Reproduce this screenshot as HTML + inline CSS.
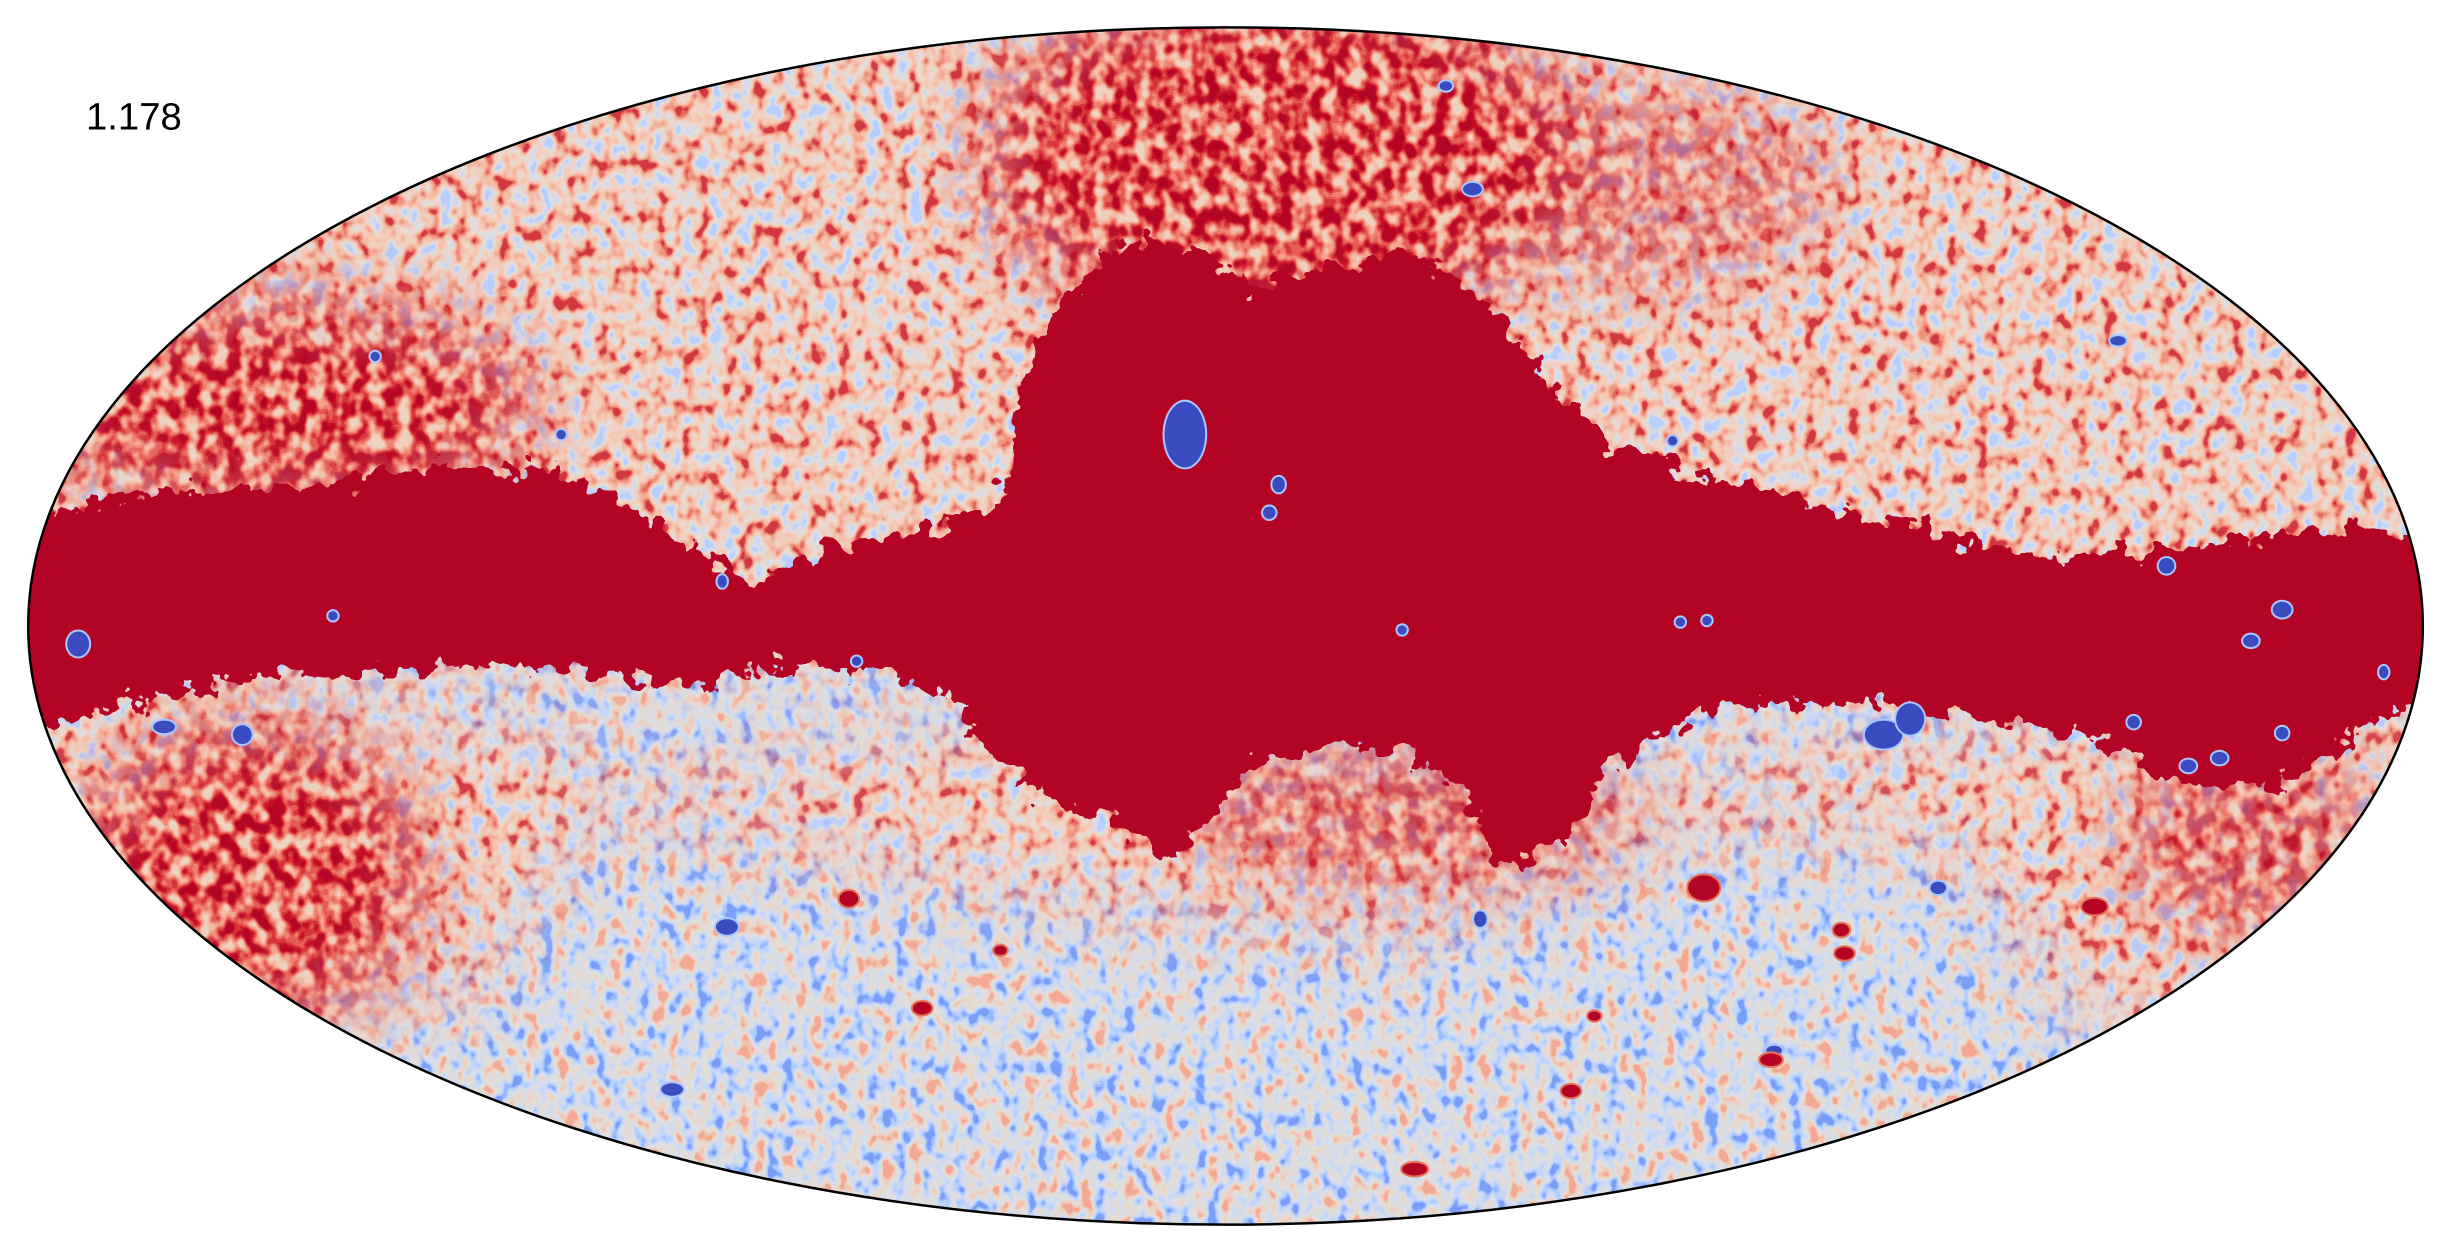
<!DOCTYPE html>
<html><head><meta charset="utf-8">
<style>
html,body{margin:0;padding:0;background:#fff;width:2451px;height:1255px;overflow:hidden}
svg{display:block}
</style></head>
<body>
<svg id="map" width="2451" height="1255" viewBox="0 0 1568 802.9" xmlns="http://www.w3.org/2000/svg">
<defs>
 <clipPath id="ell"><ellipse cx="784" cy="400.5" rx="766" ry="383"/></clipPath>
 <filter id="fSouth" x="0" y="0" width="1568" height="803" filterUnits="userSpaceOnUse" color-interpolation-filters="sRGB">
  <feTurbulence type="fractalNoise" baseFrequency="0.11 0.09" numOctaves="2" seed="3"/>
  <feColorMatrix type="matrix" values="1 0 0 0 0 1 0 0 0 0 1 0 0 0 0 0 0 0 0 1"/>
  <feComponentTransfer>
   <feFuncR type="linear" slope="2.0" intercept="-0.5"/>
   <feFuncG type="linear" slope="2.0" intercept="-0.5"/>
   <feFuncB type="linear" slope="2.0" intercept="-0.5"/>
  </feComponentTransfer>
  <feComponentTransfer>
   <feFuncR type="discrete" tableValues="0.48 0.60 0.70 0.77 0.82 0.86 0.88 0.90 0.93 0.95 0.95"/>
   <feFuncG type="discrete" tableValues="0.62 0.73 0.81 0.84 0.86 0.87 0.87 0.86 0.82 0.76 0.66"/>
   <feFuncB type="discrete" tableValues="0.97 1.00 0.99 0.97 0.94 0.90 0.87 0.83 0.77 0.68 0.58"/>
  </feComponentTransfer>
 </filter>
 <filter id="fNorth" x="0" y="0" width="1568" height="803" filterUnits="userSpaceOnUse" color-interpolation-filters="sRGB">
  <feTurbulence type="fractalNoise" baseFrequency="0.11 0.09" numOctaves="2" seed="8"/>
  <feColorMatrix type="matrix" values="1 0 0 0 0 1 0 0 0 0 1 0 0 0 0 0 0 0 0 1"/>
  <feComponentTransfer>
   <feFuncR type="linear" slope="2.0" intercept="-0.5"/>
   <feFuncG type="linear" slope="2.0" intercept="-0.5"/>
   <feFuncB type="linear" slope="2.0" intercept="-0.5"/>
  </feComponentTransfer>
  <feComponentTransfer>
   <feFuncR type="discrete" tableValues="0.72 0.80 0.86 0.90 0.94 0.95 0.96 0.96 0.94 0.90 0.82"/>
   <feFuncG type="discrete" tableValues="0.81 0.85 0.87 0.86 0.83 0.80 0.75 0.68 0.58 0.42 0.22"/>
   <feFuncB type="discrete" tableValues="0.99 0.96 0.89 0.84 0.78 0.73 0.67 0.60 0.50 0.38 0.26"/>
  </feComponentTransfer>
 </filter>
 <filter id="fDark" x="0" y="0" width="1568" height="803" filterUnits="userSpaceOnUse" color-interpolation-filters="sRGB">
  <feTurbulence type="fractalNoise" baseFrequency="0.11 0.09" numOctaves="2" seed="15"/>
  <feColorMatrix type="matrix" values="1 0 0 0 0 1 0 0 0 0 1 0 0 0 0 0 0 0 0 1"/>
  <feComponentTransfer>
   <feFuncR type="linear" slope="2.0" intercept="-0.5"/>
   <feFuncG type="linear" slope="2.0" intercept="-0.5"/>
   <feFuncB type="linear" slope="2.0" intercept="-0.5"/>
  </feComponentTransfer>
  <feComponentTransfer>
   <feFuncR type="discrete" tableValues="0.93 0.96 0.96 0.94 0.90 0.84 0.77 0.71 0.71"/>
   <feFuncG type="discrete" tableValues="0.82 0.74 0.64 0.50 0.36 0.20 0.06 0.02 0.02"/>
   <feFuncB type="discrete" tableValues="0.76 0.66 0.56 0.44 0.33 0.23 0.16 0.15 0.15"/>
  </feComponentTransfer>
 </filter>
 <filter id="rough" x="-0.1" y="-0.1" width="1.2" height="1.2" color-interpolation-filters="sRGB">
  <feTurbulence type="fractalNoise" baseFrequency="0.08" numOctaves="3" seed="5" result="n"/>
  <feDisplacementMap in="SourceGraphic" in2="n" scale="30" xChannelSelector="R" yChannelSelector="G"/>
 </filter>
 <filter id="blur20"><feGaussianBlur stdDeviation="22"/></filter>
 <mask id="mNorth" maskUnits="userSpaceOnUse" x="0" y="0" width="1568" height="803">
  <g filter="url(#blur20)" fill="#fff">
   <path d="M0 0 H1568 V420 H0 Z"/>
   <path d="M0 400 L340 470 L420 500 L600 470 L1000 500 L1250 470 L1568 440 V700 L1330 650 L1250 540 L1100 530 L900 600 L700 580 L380 520 L300 640 L0 700 Z"/>
  </g>
 </mask>
 <mask id="mDark" maskUnits="userSpaceOnUse" x="0" y="0" width="1568" height="803">
  <g filter="url(#blur20)" fill="#fff">
   <ellipse cx="820" cy="100" rx="190" ry="110"/>
   <ellipse cx="180" cy="260" rx="160" ry="65"/>
   <ellipse cx="160" cy="560" rx="110" ry="95"/>
   <ellipse cx="1440" cy="540" rx="80" ry="55" opacity="0.7"/>
   <ellipse cx="1060" cy="120" rx="110" ry="60" opacity="0.5"/>
   <ellipse cx="900" cy="520" rx="140" ry="40" opacity="0.7"/>
  </g>
 </mask>
</defs>

<g clip-path="url(#ell)">
 <rect x="0" y="0" width="1568" height="803" filter="url(#fSouth)"/>
 <g mask="url(#mNorth)"><rect x="0" y="0" width="1568" height="803" filter="url(#fNorth)"/></g>
 <g mask="url(#mDark)"><rect x="0" y="0" width="1568" height="803" filter="url(#fDark)"/></g>
 <g filter="url(#rough)" fill="#b40426">
  <path d="M0 338 L60 322 L120 315 L200 310 L270 300 L330 298 L370 305 L420 335 L460 362 L490 372 L530 348 L600 338 L640 322 L655 240 L690 175 L730 150 L770 160 L800 185 L850 170 L900 160 L950 190 L990 245 L1030 282 L1080 302 L1140 318 L1200 332 L1260 347 L1320 357 L1380 352 L1440 347 L1500 337 L1568 347 L1568 445 L1520 460 L1490 480 L1460 500 L1400 505 L1370 488 L1330 470 L1250 455 L1180 450 L1100 452 L1060 470 L1030 490 L1000 540 L960 555 L940 510 L900 480 L850 475 L800 490 L770 530 L750 548 L700 520 L660 505 L630 480 L610 445 L560 432 L500 425 L430 440 L380 430 L320 425 L250 430 L180 432 L120 440 L60 455 L0 475 Z"/>
 </g>
 <g id="spots"></g>
</g>
<ellipse cx="784" cy="400.5" rx="766" ry="383" fill="none" stroke="#000" stroke-width="1.6"/>
<text x="55" y="83" font-family="'Liberation Sans', sans-serif" font-size="24.5" fill="#000">1.178</text>
</svg>
<script>
// point sources: x, y (display coords), radius x, radius y
const blueX = [758, 942, 1355, 1386, 1460, 1440, 1525, 1400, 1420, 1205, 1222, 50, 105, 155, 465, 1240, 947, 430, 1135, 818, 812, 897, 1075, 1092, 213, 462, 359, 240, 1070, 1460, 1365, 548, 925];
const blueY = [278, 121, 218, 362, 390, 410, 430, 490, 485, 470, 460, 412, 465, 470, 593, 568, 588, 697, 672, 310, 328, 403, 398, 397, 394, 372, 278, 228, 282, 469, 462, 423, 55];
const blueRX = [13, 6, 5, 5, 6, 5, 3, 5, 5, 12, 9, 7, 7, 6, 7, 5, 4, 7, 5, 4, 4, 3, 3, 3, 3, 3, 3, 3, 3, 4, 4, 3, 4];
const blueRY = [21, 4, 3, 5, 5, 4, 4, 4, 4, 9, 10, 8, 4, 6, 5, 4, 5, 4, 3, 5, 4, 3, 3, 3, 3, 4, 3, 3, 3, 4, 4, 3, 3];
const redX = [543, 590, 640, 1180, 1178, 1340, 1133, 905, 1005, 1090, 1020];
const redY = [575, 645, 608, 610, 595, 580, 678, 748, 698, 568, 650];
const redRX = [6, 6, 4, 6, 5, 8, 7, 8, 6, 10, 4];
const redRY = [5, 4, 3, 4, 4, 5, 4, 4, 4, 8, 3];

const NS = 'http://www.w3.org/2000/svg';
const g = document.getElementById('spots');
function mkSpot(x, y, rx, ry, fill, halo) {
  const h = document.createElementNS(NS, 'ellipse');
  h.setAttribute('cx', x); h.setAttribute('cy', y);
  h.setAttribute('rx', rx + 1.3); h.setAttribute('ry', ry + 1.3);
  h.setAttribute('fill', halo);
  
  
  g.appendChild(h);
  const e = document.createElementNS(NS, 'ellipse');
  e.setAttribute('cx', x); e.setAttribute('cy', y);
  e.setAttribute('rx', rx); e.setAttribute('ry', ry);
  e.setAttribute('fill', fill);
  
  
  g.appendChild(e);
}
for (let i = 0; i < blueX.length; i++) mkSpot(blueX[i], blueY[i], blueRX[i], blueRY[i], '#3b4cc0', '#a9c6fd');
for (let i = 0; i < redX.length; i++) mkSpot(redX[i], redY[i], redRX[i], redRY[i], '#b40426', '#e7745b');
</script>
</body></html>
